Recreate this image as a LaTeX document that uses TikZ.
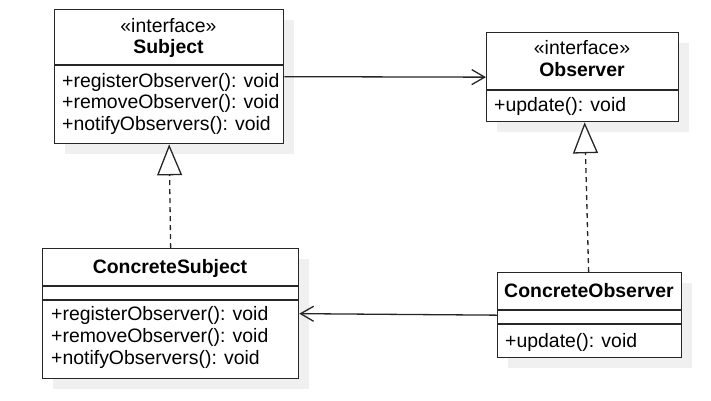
\documentclass[tikz,border=0pt]{standalone}
\usepackage{fontspec}
\setmainfont{Liberation Sans}
\usetikzlibrary{arrows.meta,shadows}
\definecolor{linec}{HTML}{262626}
\definecolor{shadowc}{HTML}{F0F0F0}
\begin{document}
\begin{tikzpicture}[x=1bp,y=-1bp,
  box/.style={draw=linec, line width=1.3bp, fill=white, rectangle, inner sep=0pt, anchor=north west,
    drop shadow={shadow xshift=10bp, shadow yshift=-10bp, fill=shadowc, opacity=1}},
  divline/.style={draw=linec, line width=1.3bp},
  txt/.style={anchor=base west, inner sep=0pt, font=\fontsize{19.5}{21.6}\selectfont},
  ttl/.style={anchor=base, inner sep=0pt, font=\fontsize{19.5}{21.6}\selectfont},
  bttl/.style={anchor=base, inner sep=0pt, font=\fontsize{19.5}{21.6}\selectfont\bfseries},
  assoc/.style={draw=linec, line width=1.3bp, -{Straight Barb[length=13bp,width=15bp,line width=1.3bp]}},
  realize/.style={draw=linec, line width=1.3bp, dash pattern=on 5bp off 4bp,
    -{Triangle[open,length=31bp,width=25bp,fill=white,line width=1.3bp]}}
]
\useasboundingbox (0,0) rectangle (711,400);

% Subject
\node[box, minimum width=229bp, minimum height=134bp] (subj) at (54,9) {};
\draw[divline] ([yshift=-56bp]subj.north west) -- ([yshift=-56bp]subj.north east);
\node[ttl] (subjst) at (168.5,32) {«interface»};
\node[bttl] (subjname) at (168.5,53) {Subject};
\node[txt] (subjm1) at (62,87) {+registerObserver(): void};
\node[txt] (subjm2) at (62,108.5) {+removeObserver(): void};
\node[txt] (subjm3) at (62,130) {+notifyObservers(): void};

% Observer
\node[box, minimum width=192bp, minimum height=89bp] (obs) at (486,32) {};
\draw[divline] ([yshift=-58bp]obs.north west) -- ([yshift=-58bp]obs.north east);
\node[ttl] (obsst) at (582,54) {«interface»};
\node[bttl] (obsname) at (582,76) {Observer};
\node[txt] (obsm1) at (494,111) {+update(): void};

% ConcreteSubject
\node[box, minimum width=256bp, minimum height=130bp] (csubj) at (42,248) {};
\draw[divline] ([yshift=-38bp]csubj.north west) -- ([yshift=-38bp]csubj.north east);
\draw[divline] ([yshift=-52bp]csubj.north west) -- ([yshift=-52bp]csubj.north east);
\node[bttl] (csubjname) at (170,273) {ConcreteSubject};
\node[txt] (csubjm1) at (51,320) {+registerObserver(): void};
\node[txt] (csubjm2) at (51,342) {+removeObserver(): void};
\node[txt] (csubjm3) at (51,364) {+notifyObservers(): void};

% ConcreteObserver
\node[box, minimum width=184bp, minimum height=85bp] (cobs) at (497,272) {};
\draw[divline] ([yshift=-38bp]cobs.north west) -- ([yshift=-38bp]cobs.north east);
\draw[divline] ([yshift=-52bp]cobs.north west) -- ([yshift=-52bp]cobs.north east);
\node[bttl] (cobsname) at (589,297) {ConcreteObserver};
\node[txt] (cobsm1) at (505,347) {+update(): void};

% connectors
\draw[assoc] (subj.east) -- (obs.west);
\draw[assoc] (cobs.west) -- (csubj.east);
\draw[realize] (csubj.north) -- (subj.south);
\draw[realize] ([xshift=-1bp]cobs.north) -- ([xshift=2bp]obs.south);
\end{tikzpicture}
\end{document}
